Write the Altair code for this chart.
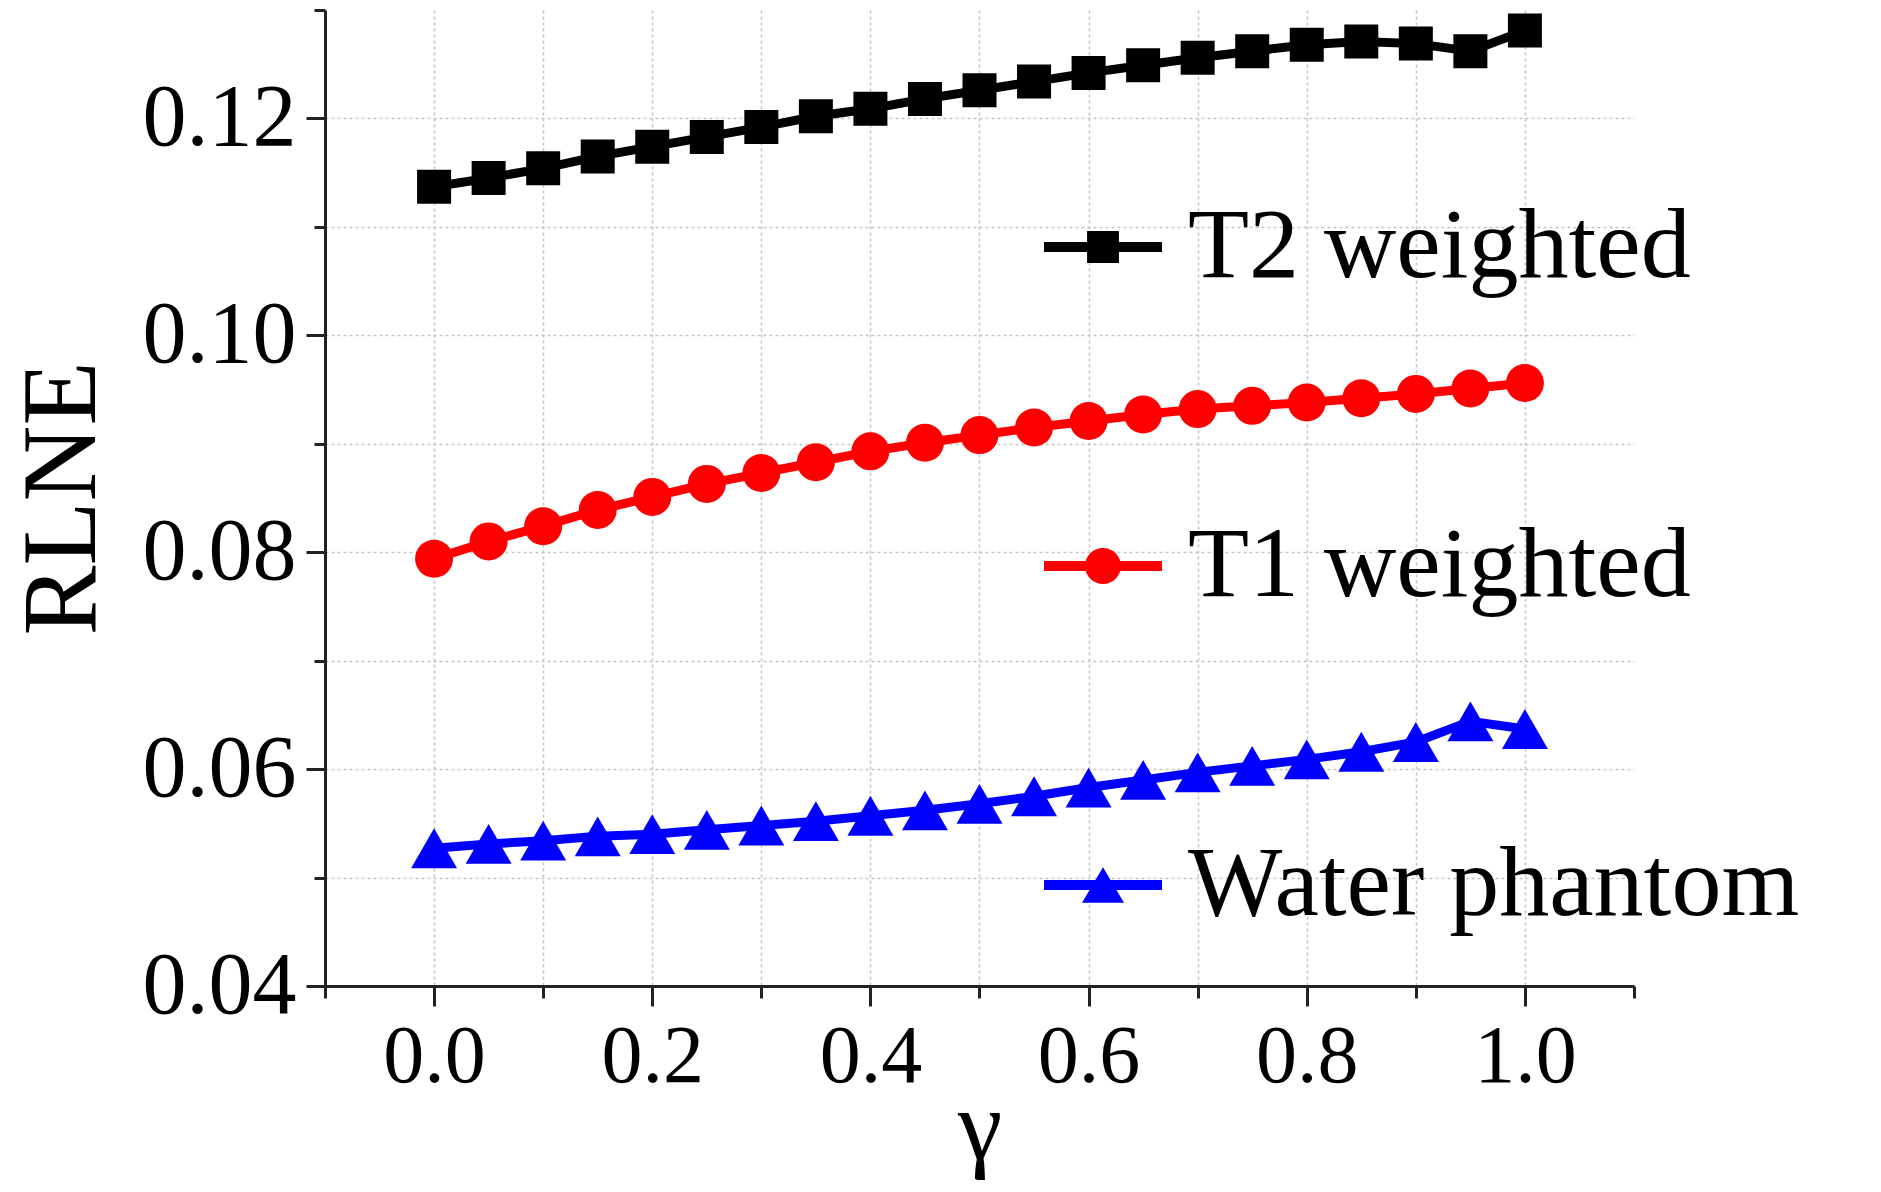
import altair as alt
import pandas as pd

# ---------------- data ----------------
gamma = [0.0, 0.05, 0.1, 0.15, 0.2, 0.25, 0.3, 0.35, 0.4, 0.45, 0.5,
         0.55, 0.6, 0.65, 0.7, 0.75, 0.8, 0.85, 0.9, 0.95, 1.0]
t2_weighted = [0.1137, 0.1145, 0.1154, 0.1165, 0.1174, 0.1183, 0.1192, 0.1202,
               0.1209, 0.1218, 0.1226, 0.1234, 0.1242, 0.1249, 0.1256, 0.1262,
               0.1268, 0.1271, 0.1269, 0.1262, 0.1281]
t1_weighted = [0.0794, 0.0810, 0.0824, 0.0839, 0.0851, 0.0863, 0.0873, 0.0883,
               0.0893, 0.0901, 0.0908, 0.0915, 0.0921, 0.0927, 0.0932, 0.0935,
               0.0938, 0.0942, 0.0946, 0.0951, 0.0956]
water_phantom = [0.0527, 0.0531, 0.0534, 0.0538, 0.0540, 0.0544, 0.0548, 0.0552,
                 0.0557, 0.0562, 0.0568, 0.0575, 0.0583, 0.0590, 0.0597, 0.0603,
                 0.0609, 0.0616, 0.0625, 0.0644, 0.0637]

series_names = ["T2 weighted", "T1 weighted", "Water phantom"]
series_values = [t2_weighted, t1_weighted, water_phantom]
series_colors = ["#000000", "#ff0000", "#0000ff"]
plot_shapes = ["square", "circle", "triangle-up"]
plot_sizes = [1156, 1444, 2116]
legend_shapes = [
    "M-1,-0.085H1V0.085H-1Z M-0.27,-0.27H0.27V0.27H-0.27Z",
    "M-1,-0.085H1V0.085H-1Z M0.305,0 A0.305,0.305 0 1,1 -0.305,0 A0.305,0.305 0 1,1 0.305,0 Z",
    "M-1,-0.085H1V0.085H-1Z M0,-0.3 L0.356,0.3 L-0.356,0.3 Z",
]

x_ticks = [-0.1, 0.0, 0.1, 0.2, 0.3, 0.4, 0.5, 0.6, 0.7, 0.8, 0.9, 1.0, 1.1]
y_ticks = [0.04, 0.05, 0.06, 0.07, 0.08, 0.09, 0.10, 0.11, 0.12, 0.13]

rows = []
for name, vals in zip(series_names, series_values):
    for g, v in zip(gamma, vals):
        rows.append({"gamma": g, "value": v, "series": name})
df = pd.DataFrame(rows)

FONT = "Liberation Serif"
AX_COL = "#222222"
GRID_COL = "#c4c4c4"

x_axis = alt.Axis(
    values=x_ticks,
    labelExpr="round(datum.value*100) % 20 == 0 ? format(datum.value, '.1f') : ''",
    labelOverlap=False, labelFlush=False,
    tickSize={"condition": {"test": "round(datum.value*100) % 20 == 0", "value": 20}, "value": 12},
    tickColor=AX_COL, tickWidth=3,
    domainColor=AX_COL, domainWidth=3,
    grid=True, gridColor=GRID_COL, gridDash=[3, 3], gridWidth=1.5,
    gridOpacity={"condition": {"test": "datum.value < -0.05 || datum.value > 1.05", "value": 0}, "value": 1},
    labelFont=FONT, labelFontSize=82, labelColor="black", labelPadding=10,
    title="γ", titleFont=FONT, titleFontSize=100, titleFontWeight="normal",
    titleColor="black", titleBaseline="alphabetic", titleY=172,
)
y_axis = alt.Axis(
    values=y_ticks,
    labelExpr="round(datum.value*1000) % 20 == 0 ? format(datum.value, '.2f') : ''",
    labelOverlap=False, labelFlush=False,
    tickSize={"condition": {"test": "round(datum.value*1000) % 20 == 0", "value": 19}, "value": 11},
    tickColor=AX_COL, tickWidth=3,
    domainColor=AX_COL, domainWidth=3,
    grid=True, gridColor=GRID_COL, gridDash=[3, 3], gridWidth=1.5,
    gridOpacity={"condition": {"test": "datum.value > 0.125", "value": 0}, "value": 1},
    labelFont=FONT, labelFontSize=88, labelColor="black", labelPadding=10,
    title="RLNE", titleFont=FONT, titleFontSize=105, titleFontWeight="normal",
    titleColor="black", titleAngle=270, titleBaseline="middle", titleAlign="center",
    titleX=-263, titleY=488,
)

x_enc = alt.X("gamma:Q", scale=alt.Scale(domain=[-0.1, 1.1], nice=False, zero=False), axis=x_axis)
y_enc = alt.Y("value:Q", scale=alt.Scale(domain=[0.04, 0.13], nice=False, zero=False), axis=y_axis)

layers = []
for name, col in zip(series_names, series_colors):
    layers.append(
        alt.Chart(df).transform_filter(alt.datum.series == name)
        .mark_line(color=col, strokeWidth=9)
        .encode(x=x_enc, y=y_enc)
    )
for name, col, shp, sz in zip(series_names, series_colors, plot_shapes, plot_sizes):
    layers.append(
        alt.Chart(df).transform_filter(alt.datum.series == name)
        .mark_point(filled=True, color=col, shape=shp, size=sz, opacity=1, strokeWidth=0)
        .encode(x=x_enc, y=y_enc)
    )

leg = alt.Legend(
    orient="none", legendX=719, legendY=178, title=None,
    labelFont=FONT, labelFontSize=100, labelColor="black", labelOffset=26,
    labelLimit=0,
    symbolSize=13924, symbolStrokeWidth=0, symbolOpacity=1,
    rowPadding=210, padding=0,
)
legend_layer = (
    alt.Chart(df).transform_filter("datum.value < 0")
    .mark_point(filled=True, strokeWidth=0, opacity=1)
    .encode(
        x=x_enc, y=y_enc,
        color=alt.Color("series:N", scale=alt.Scale(domain=series_names, range=series_colors), legend=leg),
        shape=alt.Shape("series:N", scale=alt.Scale(domain=series_names, range=legend_shapes), legend=leg),
    )
)
layers.append(legend_layer)

chart = (
    alt.layer(*layers)
    .properties(
        width=1309, height=976,
        autosize=alt.AutoSizeParams(type="none"),
        padding={"left": 317, "top": 2, "right": 239, "bottom": 198},
        background="white",
    )
    .configure_view(stroke=None)
)

chart.save("out.html", embed_options={"renderer": "svg", "actions": False})
